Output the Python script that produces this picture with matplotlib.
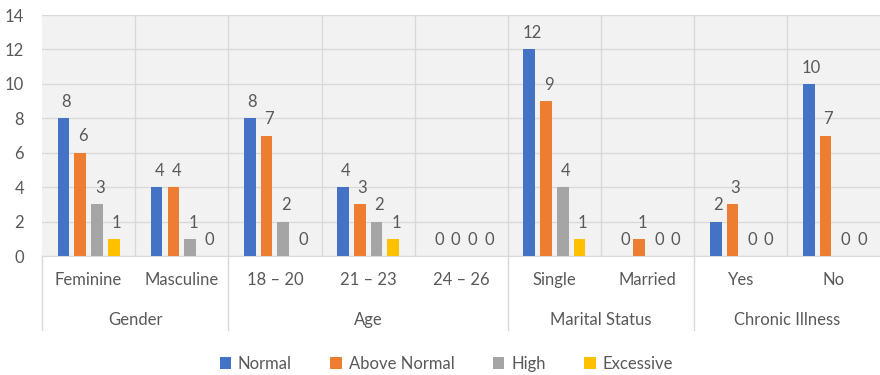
import matplotlib
matplotlib.use('Agg')
import matplotlib.pyplot as plt
import matplotlib.transforms as mtransforms
import numpy as np

categories = ['Feminine', 'Masculine', '18 – 20', '21 – 23', '24 – 26',
              'Single', 'Married', 'Yes', 'No']
groups = ['Gender', 'Age', 'Marital Status', 'Chronic Illness']
group_sizes = [2, 3, 2, 2]
series = ['Normal', 'Above Normal', 'High', 'Excessive']
normal = [8, 4, 8, 4, 0, 12, 0, 2, 10]
above_normal = [6, 4, 7, 3, 0, 9, 1, 3, 7]
high = [3, 1, 2, 2, 0, 4, 0, 0, 0]
excessive = [1, 0, 0, 1, 0, 1, 0, 0, 0]
colors = ['#4472C4', '#ED7D31', '#A5A5A5', '#FFC000']

plt.rcParams['font.family'] = ['Lato', 'DejaVu Sans']
txt = '#595959'
grid = '#d9d9d9'

fig = plt.figure(figsize=(8.8, 3.75), dpi=100)
ax = fig.add_axes([0.0477, 0.317, 0.953, 0.643])
ax.set_facecolor('#f2f2f2')

x = np.arange(len(categories))
step = 0.18
width = 0.125
for i, (name, vals) in enumerate(zip(series, [normal, above_normal, high, excessive])):
    pos = x + (i - 1.5) * step
    ax.bar(pos, vals, width=width, color=colors[i], label=name, zorder=3)
    for p, v in zip(pos, vals):
        ax.annotate(str(v), (p, v), xytext=(2, 6), textcoords='offset points',
                    ha='center', va='bottom', fontsize=12, color=txt)

ax.set_xlim(-0.5, len(categories) - 0.5)
ax.set_ylim(0, 14)
ax.set_yticks(range(0, 15, 2))
ax.yaxis.grid(True, color=grid, lw=1, zorder=0)
for k in range(len(categories) - 1):
    ax.axvline(k + 0.5, color=grid, lw=1, zorder=0)
for s in ['top', 'right', 'left']:
    ax.spines[s].set_visible(False)
ax.spines['bottom'].set_color(grid)
ax.tick_params(axis='y', length=0, labelsize=12, labelcolor=txt, pad=13)
ax.set_xticks([])

trans = mtransforms.blended_transform_factory(ax.transData, ax.transAxes)
for k, c in enumerate(categories):
    ax.text(k, -0.10, c, transform=trans, ha='center', va='center',
            fontsize=12, color=txt)
start = 0
bounds = [-0.5]
for g, n in zip(groups, group_sizes):
    mid = start + (n - 1) / 2
    ax.text(mid, -0.265, g, transform=trans, ha='center', va='center',
            fontsize=12, color=txt)
    start += n
    bounds.append(start - 0.5)
for b in bounds:
    ax.plot([b, b], [0, -0.307], transform=trans, color=grid, lw=1, clip_on=False)

fig.legend(loc='center', bbox_to_anchor=(0.507, 0.03), ncol=4, frameon=False,
           fontsize=12, labelcolor=txt, handlelength=0.7, handleheight=0.7,
           handletextpad=0.4, columnspacing=2.3, borderpad=0)

fig.savefig('out.png', dpi=100)
